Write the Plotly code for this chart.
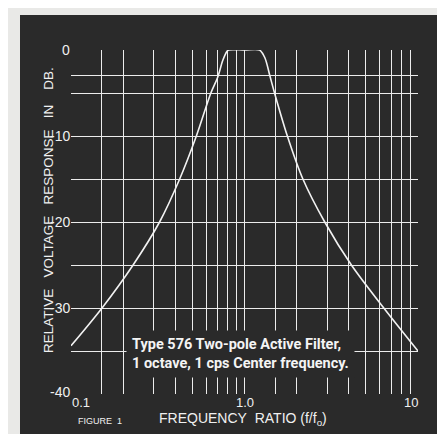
import math
import plotly.graph_objects as go

# ---- data ----
freq_ratio = [0.1, 0.151, 0.228, 0.324, 0.423, 0.528, 0.64, 0.70, 0.75, 0.79, 0.81,
              1.0, 1.22, 1.31, 1.40, 1.49, 1.766, 2.17, 2.9, 4.13, 6.35, 10]
response_db = [-34.4, -30, -25, -20, -15, -10, -5, -3.2, -1.2, -0.2, 0,
               0, 0, -0.9, -3, -5, -10, -15, -20, -25, -30, -35]

x_grid = [0.1, 0.15, 0.2, 0.3, 0.4, 0.5, 0.6, 0.7, 0.8, 0.9, 1,
          1.5, 2, 3, 4, 5, 6, 7, 8, 9, 10]
y_grid = [0, -3, -5, -10, -15, -20, -25, -30, -35, -40]

x_label_vals = [0.1, 1, 10]
x_label_text = ["0.1", "1.0", "10"]
y_label_vals = [0, -10, -20, -30, -40]
y_label_text = ["0", "-10", "-20", "-30", "-40"]

BG = "#2a2a2a"
PAPER = "#e9e9e7"
LINE = "#ececec"
FONT = "Liberation Sans, Arial, sans-serif"
BOX_FONT = "Roboto, Liberation Sans, sans-serif"

fig = go.Figure()
fig.add_trace(go.Scatter(
    x=freq_ratio, y=response_db, mode="lines",
    line=dict(color="#f2f2f2", width=1.6, shape="spline", smoothing=0.9),
    hoverinfo="skip", showlegend=False))

fig.update_layout(
    width=445, height=434,
    margin=dict(l=63, r=35, t=42, b=48),
    paper_bgcolor=PAPER, plot_bgcolor=BG,
    font=dict(family=FONT, color="#f0f0f0", size=14),
    xaxis=dict(type="log", range=[-1, 1], tickvals=x_grid, showticklabels=False,
               showgrid=True, gridcolor=LINE, gridwidth=1.4, zeroline=False,
               showline=False, ticks=""),
    yaxis=dict(range=[-40, 0], tickvals=y_grid, showticklabels=False,
               showgrid=True, gridcolor=LINE, gridwidth=1.4, zeroline=False,
               showline=False, ticks=""),
)

# dark panel behind everything
fig.add_shape(type="rect", xref="paper", yref="paper",
              x0=(12 - 63) / 347, x1=(437 - 63) / 347,
              y0=-0.2, y1=(386 - 7) / 344,
              fillcolor=BG, line=dict(width=0), layer="below")

ann = []
for v, t in zip(x_label_vals, x_label_text):
    if v == x_label_vals[0]:
        anchor, shift = "left", -1
    elif v == x_label_vals[-1]:
        anchor, shift = "right", 2
    else:
        anchor, shift = "center", 0
    ann.append(dict(x=math.log10(v), y=-40, xref="x", yref="y", text=t,
                    showarrow=False, xanchor=anchor, yanchor="top", xshift=shift, yshift=1,
                    font=dict(size=13, family=FONT, color="#f0f0f0")))
for v, t in zip(y_label_vals, y_label_text):
    ann.append(dict(x=0, y=v, xref="paper", yref="y", text=t, showarrow=False,
                    xanchor="right", yanchor="middle", xshift=1,
                    yshift=2 if v == y_label_vals[-1] else 0,
                    font=dict(size=14, family=FONT, color="#f0f0f0")))

ann.append(dict(x=(40 - 63) / 347, y=(386 - 202) / 344, xref="paper", yref="paper",
                text="RELATIVE\u00a0\u00a0\u00a0VOLTAGE\u00a0\u00a0\u00a0RESPONSE\u00a0\u00a0\u00a0IN\u00a0\u00a0\u00a0\u00a0DB.",
                textangle=-90, showarrow=False, xanchor="center", yanchor="middle",
                font=dict(size=13.5, family=FONT, color="#f0f0f0")))
ann.append(dict(x=(235 - 63) / 347, y=(386 - 411) / 344, xref="paper", yref="paper",
                text="FREQUENCY\u00a0\u00a0RATIO\u00a0(f/f<sub>o</sub>)",
                showarrow=False, xanchor="center", yanchor="middle",
                font=dict(size=14, family=FONT, color="#f0f0f0")))
ann.append(dict(x=(68 - 63) / 347, y=(386 - 413) / 344, xref="paper", yref="paper",
                text="FIGURE\u00a0 1", showarrow=False, xanchor="left", yanchor="middle",
                font=dict(size=9, family=FONT, color="#f0f0f0")))
ann.append(dict(x=(232 - 63) / 347, y=(386 - 346) / 344, xref="paper", yref="paper",
                text="<b>Type 576 Two-pole Active Filter,<br>1 octave, 1 cps Center frequency.</b>",
                showarrow=False, xanchor="center", yanchor="middle", align="left",
                bgcolor=BG, borderpad=5,
                font=dict(size=14.5, family=BOX_FONT, color="#f4f4f4")))
fig.update_layout(annotations=ann)

fig.write_html("out.html")
